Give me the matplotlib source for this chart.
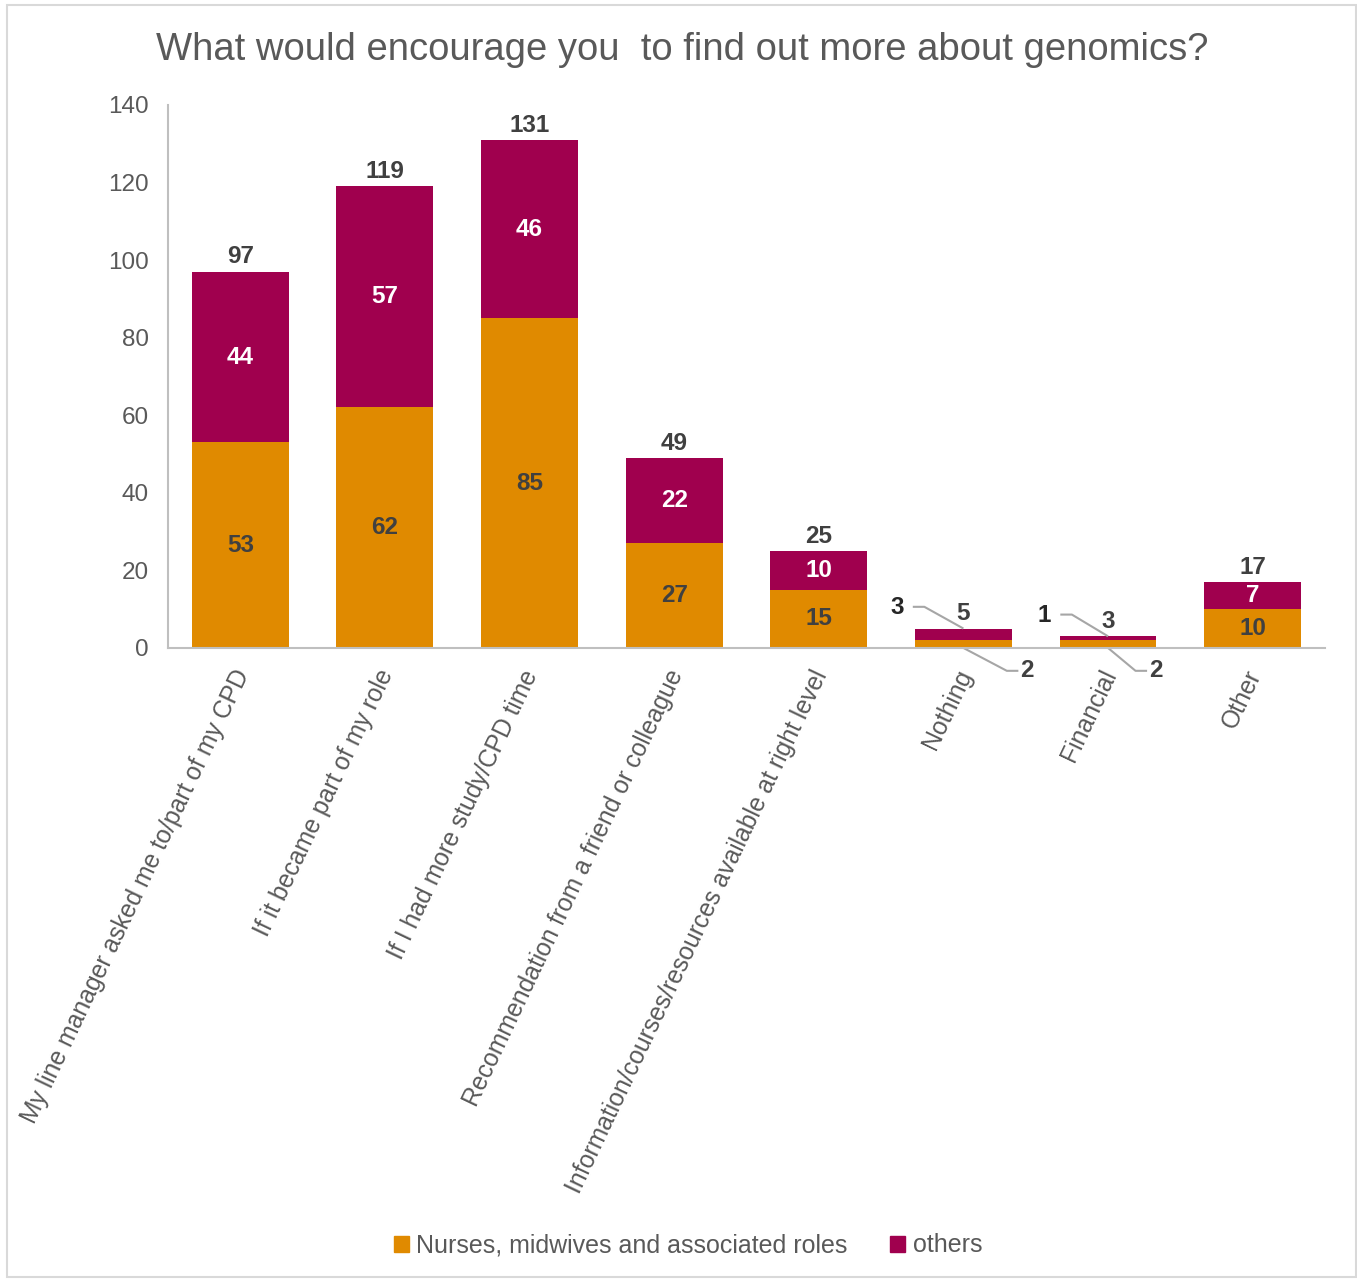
import matplotlib
matplotlib.use("Agg")
import matplotlib.pyplot as plt
from matplotlib.patches import Patch, Rectangle
import numpy as np

plt.rcParams['font.family'] = ['Liberation Sans', 'DejaVu Sans']

categories = [
    "My line manager asked me to/part of my CPD",
    "If it became part of my role",
    "If I had more study/CPD time",
    "Recommendation from a friend or colleague",
    "Information/courses/resources available at right level",
    "Nothing",
    "Financial",
    "Other",
]
nurses = [53, 62, 85, 27, 15, 2, 2, 10]
others = [44, 57, 46, 22, 10, 3, 1, 7]
series_names = ["Nurses, midwives and associated roles", "others"]
title = "What would encourage you  to find out more about genomics?"
yticks = [0, 20, 40, 60, 80, 100, 120, 140]

# Categories whose segment labels sit outside the bar on leader lines
small_idx = [5, 6]

ORANGE = "#E08A00"
MAROON = "#A0004E"
TXT = "#595959"
DARK = "#404040"
GRID = "#BFBFBF"

fig = plt.figure(figsize=(13.57, 12.8), dpi=100)
fig.patch.set_facecolor("white")
fig.add_artist(Rectangle((0.005, 0.002), 0.994, 0.994, transform=fig.transFigure,
                         fill=False, edgecolor="#D9D9D9", lw=1.5))

ax = fig.add_axes([0.1238, 0.4938, 0.8526, 0.4242])
x = np.arange(len(categories))
w = 0.67
ax.bar(x, nurses, w, color=ORANGE, label=series_names[0])
ax.bar(x, others, w, bottom=nurses, color=MAROON, label=series_names[1])

ax.set_xlim(-0.5, len(categories) - 0.5)
ax.set_ylim(0, 140)
ax.set_yticks(yticks)
ax.tick_params(axis="y", length=0, pad=14, labelsize=17.5, labelcolor=TXT)
ax.tick_params(axis="x", length=0)
for s in ["top", "right"]:
    ax.spines[s].set_visible(False)
ax.spines["left"].set_color(GRID)
ax.spines["bottom"].set_color(GRID)
ax.spines["left"].set_linewidth(1.5)
ax.spines["bottom"].set_linewidth(1.5)
ax.set_xticks(x)
ax.set_xticklabels([])

# Rotated category labels anchored under each bar
for xi, cat in zip(x, categories):
    ax.annotate(cat, xy=(xi, 0), xycoords="data", xytext=(-6, -13),
                textcoords="offset points", rotation=64.5, ha="right", va="top",
                rotation_mode="anchor", fontsize=17.8, color=TXT)

lbl = dict(fontsize=17.5, fontweight="bold", ha="center", va="center")
for i, (n, o) in enumerate(zip(nurses, others)):
    total = n + o
    ax.text(i, total + 3.8, str(total), color=DARK, **lbl)
    if i in small_idx:
        continue
    ax.text(i, n / 2, str(n), color=DARK, **lbl)
    ax.text(i, n + o / 2, str(o), color="white", **lbl)

# Leader-line labels for the thin bars
leader_color = "#A6A6A6"
top_dx = [-0.46, -0.44]
bot_dx = [0.43, 0.32]
for k, i in enumerate(small_idx):
    n, o = nurses[i], others[i]
    total = n + o
    # others segment: label up-left
    ty = total + 5.3
    tx = i + top_dx[k]
    ax.plot([tx + 0.11, tx + 0.19, i], [ty + 0.3, ty + 0.3, total],
            color=leader_color, lw=1.5, solid_capstyle="butt")
    ax.text(tx, ty, str(o), color="#262626", **lbl)
    # nurses segment: label down-right
    by = -5.9
    bx = i + bot_dx[k]
    ax.plot([i, bx - 0.13, bx - 0.05], [0, by, by],
            color=leader_color, lw=1.5, solid_capstyle="butt", clip_on=False)
    ax.text(bx + 0.01, by, str(n), color=DARK, **lbl)

fig.text(0.503, 0.961, title, ha="center", va="center", fontsize=27.5, color=TXT)

handles = [Patch(color=ORANGE), Patch(color=MAROON)]
fig.legend(handles, series_names, loc="center", bbox_to_anchor=(0.507, 0.027),
           ncol=2, frameon=False, fontsize=18, handlelength=0.6, handleheight=0.6,
           handletextpad=0.3, columnspacing=1.7, labelcolor=TXT)

fig.savefig("out.png", dpi=100, facecolor="white")
